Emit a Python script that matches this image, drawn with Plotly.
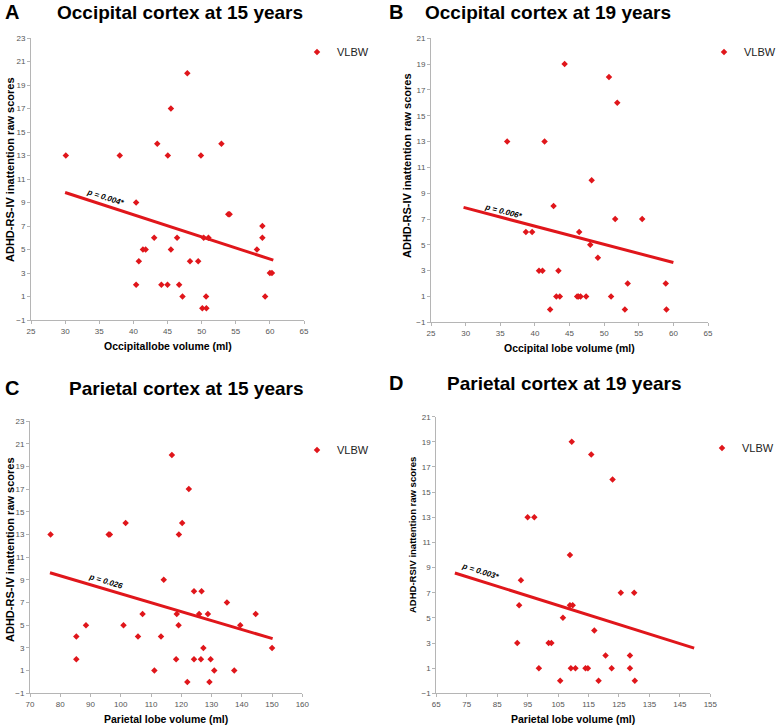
import plotly.graph_objects as go

# Panel A - occipital lobe at 15 years
occ15_vol = [30.1, 38.0, 43.5, 45.05, 45.5, 47.9, 49.9, 52.9,
             40.4, 40.8, 40.4, 41.4, 41.8, 43.05, 44.1, 45.0, 45.5, 46.4, 46.7, 47.2,
             48.3, 49.5, 50.1, 50.3, 50.7, 50.65, 51.0, 53.9, 54.1, 58.1, 58.9, 58.9,
             59.3, 60.0, 60.3]
occ15_score = [13, 13, 14, 13, 17, 20, 13, 14,
               9, 4, 2, 5, 5, 6, 2, 2, 5, 6, 2, 1,
               4, 4, 0, 6, 0, 1, 6, 8, 8, 5, 7, 6,
               1, 3, 3]
occ15_fit_x = [30.0, 60.5]
occ15_fit_y = [9.85, 4.1]

# Panel B - occipital lobe at 19 years
occ19_vol = [36.0, 41.4, 44.3, 50.7, 51.9, 48.2,
             42.7, 38.7, 39.6, 46.4, 51.6, 55.5, 48.0, 49.1, 40.6, 41.1, 43.4,
             43.1, 43.6, 46.1, 46.3, 46.6, 47.4, 51.0, 42.2, 53.0, 53.4, 58.9, 59.0]
occ19_score = [13, 13, 19, 18, 16, 10,
               8, 6, 6, 6, 7, 7, 5, 4, 3, 3, 3,
               1, 1, 1, 1, 1, 1, 1, 0, 0, 2, 2, 0]
occ19_fit_x = [29.7, 60.0]
occ19_fit_y = [7.9, 3.63]

# Panel C - parietal lobe at 15 years
par15_vol = [76.8, 96.0, 96.4, 101.6, 116.9, 122.5, 120.3, 119.2,
             114.2, 85.3, 85.3, 88.5, 100.9, 105.7, 107.2, 111.1, 113.3, 118.5, 118.3,
             119.1, 122.0, 124.2, 124.2, 125.9, 126.7, 126.5, 127.3, 128.8, 129.3, 129.7,
             130.9, 135.1, 137.5, 139.5, 144.6, 150.0]
par15_score = [13, 13, 13, 14, 20, 17, 14, 13,
               9, 4, 2, 5, 5, 4, 6, 1, 4, 6, 2,
               5, 0, 8, 2, 6, 8, 2, 3, 6, 0, 2,
               1, 7, 1, 5, 6, 3]
par15_fit_x = [76.6, 150.2]
par15_fit_y = [9.62, 3.82]

# Panel D - parietal lobe at 19 years
par19_vol = [109.5, 115.9, 122.9, 95.0, 97.2,
             108.9, 92.8, 92.2, 108.9, 109.8, 125.6, 130.0, 106.6, 116.9, 91.6, 101.9,
             102.8, 120.6, 128.6, 98.7, 109.2, 110.7, 114.0, 114.8, 122.6, 128.6,
             105.7, 118.3, 130.2]
par19_score = [19, 18, 16, 13, 13,
               10, 8, 6, 6, 6, 7, 7, 5, 4, 3, 3,
               3, 2, 2, 1, 1, 1, 1, 1, 1, 1,
               0, 0, 0]
par19_fit_x = [71.1, 149.7]
par19_fit_y = [8.57, 2.59]

W, H = 777, 725
RED = "#e0161b"
FONT = "Liberation Sans, Arial, Helvetica, sans-serif"


def px_x(v):
    return v / W


def px_y(v):
    return 1 - v / H


panels = [
    dict(letter="A", title="Occipital cortex at 15 years", vol=occ15_vol, score=occ15_score,
         fx=occ15_fit_x, fy=occ15_fit_y, p="p = 0.004*", px=35.9, py=9.45, pang=17.7,
         xr=[25, 65], xd=5, yr=[-1, 23], box=(31, 304, 38, 320),
         xt="Occipitallobe volume (ml)", yt="ADHD-RS-IV inattention raw scores",
         yt_pos=(10, 170, 11), leg=(337, 52), head=(12, 180, 12)),
    dict(letter="B", title="Occipital cortex at 19 years", vol=occ19_vol, score=occ19_score,
         fx=occ19_fit_x, fy=occ19_fit_y, p="p = 0.006*", px=35.4, py=7.6, pang=14.7,
         xr=[25, 65], xd=5, yr=[-1, 21], box=(431, 708, 38.3, 322.3),
         xt="Occipital lobe volume (ml)", yt="ADHD-RS-IV inattention raw scores",
         yt_pos=(407, 166, 11), leg=(744, 52), head=(396, 548, 12)),
    dict(letter="C", title="Parietal cortex at 15 years", vol=par15_vol, score=par15_score,
         fx=par15_fit_x, fy=par15_fit_y, p="p = 0.026", px=95.1, py=8.85, pang=16.4,
         xr=[70, 160], xd=10, yr=[-1, 23], box=(30, 302.3, 421, 693.3),
         xt="Parietal lobe volume (ml)", yt="ADHD-RS-IV inattention raw scores",
         yt_pos=(10, 550, 11), leg=(337, 450), head=(12, 186, 388)),
    dict(letter="D", title="Parietal cortex at 19 years", vol=par19_vol, score=par19_score,
         fx=par19_fit_x, fy=par19_fit_y, p="p = 0.003*", px=79.6, py=8.7, pang=17.4,
         xr=[65, 155], xd=10, yr=[-1, 21], box=(436.3, 710.3, 416.7, 693.3),
         xt="Parietal lobe volume (ml)", yt="ADHD-RSIV inattention raw scores",
         yt_pos=(412, 535, 9.5), leg=(742, 448), head=(396, 564, 383)),
]

fig = go.Figure()
annotations = []
layout = {}

for i, pn in enumerate(panels):
    n = "" if i == 0 else str(i + 1)
    xa, ya = "x" + n, "y" + n
    leg = "legend" + n
    x0, x1, y0, y1 = pn["box"]

    fig.add_trace(go.Scatter(
        x=pn["fx"], y=pn["fy"], mode="lines", xaxis=xa, yaxis=ya,
        line=dict(color=RED, width=3), showlegend=False, hoverinfo="skip"))
    fig.add_trace(go.Scatter(
        x=pn["vol"], y=pn["score"], mode="markers", xaxis=xa, yaxis=ya,
        name="VLBW", legend=leg,
        marker=dict(symbol="diamond", size=5, color=RED)))

    axis_common = dict(showgrid=False, zeroline=False, showline=True, linecolor="#b5b5b5",
                       linewidth=1, ticks="outside", ticklen=3, tickcolor="#b5b5b5",
                       tickfont=dict(family=FONT, size=8, color="#555555"))
    layout["xaxis" + n] = dict(axis_common, domain=[px_x(x0), px_x(x1)], range=pn["xr"],
                               dtick=pn["xd"], tick0=pn["xr"][0], anchor=ya)
    layout["yaxis" + n] = dict(axis_common, domain=[px_y(y1), px_y(y0)], range=pn["yr"],
                               dtick=2, tick0=-1, anchor=xa)
    # legend text starts 40px right of the legend's left edge
    layout[leg] = dict(x=px_x(pn["leg"][0] - 40), y=px_y(pn["leg"][1]), xanchor="left",
                       yanchor="middle", bgcolor="rgba(0,0,0,0)",
                       font=dict(family=FONT, size=11, color="#222"),
                       itemwidth=30, tracegroupgap=0)

    lx, tx, ty = pn["head"]
    yx, yy, ys = pn["yt_pos"]
    base = dict(xref="paper", yref="paper", showarrow=False, xanchor="center", yanchor="middle")
    annotations.append(dict(base, text="<b>" + pn["letter"] + "</b>", x=px_x(lx), y=px_y(ty),
                            font=dict(family=FONT, size=20, color="black")))
    annotations.append(dict(base, text="<b>" + pn["title"] + "</b>", x=px_x(tx), y=px_y(ty),
                            font=dict(family=FONT, size=19, color="black")))
    annotations.append(dict(base, text="<b>" + pn["xt"] + "</b>", x=px_x((x0 + x1) / 2),
                            y=px_y(y1 + 26), font=dict(family=FONT, size=10.5, color="black")))
    annotations.append(dict(base, text="<b>" + pn["yt"] + "</b>", x=px_x(yx), y=px_y(yy),
                            textangle=-90, font=dict(family=FONT, size=ys, color="black")))
    annotations.append(dict(text="<b><i>" + pn["p"] + "</i></b>", x=pn["px"], y=pn["py"],
                            xref=xa, yref=ya, showarrow=False, textangle=pn["pang"],
                            xanchor="center", yanchor="middle",
                            font=dict(family=FONT, size=8, color="black")))

fig.update_layout(
    width=W, height=H, margin=dict(l=0, r=0, t=0, b=0, autoexpand=False),
    paper_bgcolor="white", plot_bgcolor="white",
    font=dict(family=FONT), annotations=annotations, **layout)

# drop the default 8px page margin so the figure fills the window
fig.write_html("out.html", config={"displayModeBar": False},
               post_script="document.body.style.margin='0';")
